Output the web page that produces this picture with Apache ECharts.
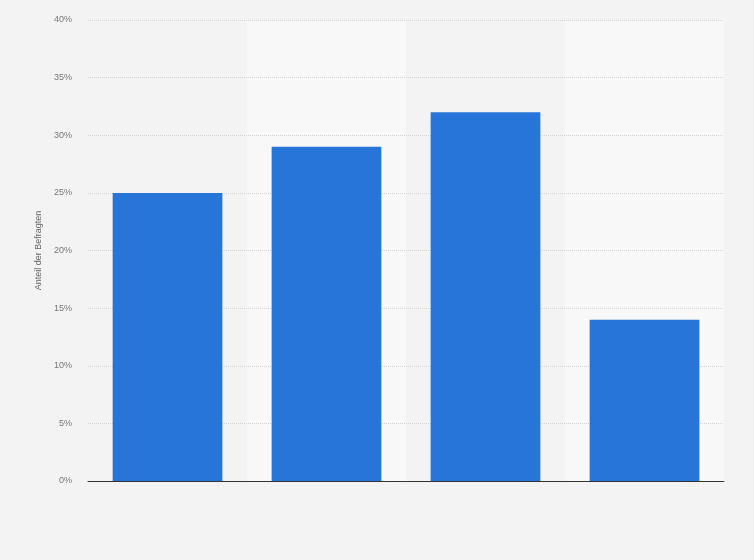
<!DOCTYPE html>
<html>
<head>
<meta charset="utf-8">
<script src="https://cdn.jsdelivr.net/npm/echarts@6/dist/echarts.min.js"></script>
<style>
html,body{margin:0;padding:0;background:#f3f3f3;}
#c{width:754px;height:560px;}
</style>
</head>
<body>
<div id="c"></div>
<script>
var categories = ['A', 'B', 'C', 'D'];
var values = [25, 29, 32, 14];
var yTicks = [0, 5, 10, 15, 20, 25, 30, 35, 40];

var chart = echarts.init(document.getElementById('c'));
chart.setOption({
  backgroundColor: '#f3f3f3',
  animation: false,
  grid: {left: 88, right: 30, top: 20, bottom: 79},
  xAxis: {
    type: 'category',
    z: 0,
    data: categories,
    axisLine: {show: true, lineStyle: {color: '#333', width: 1}},
    axisTick: {show: false},
    axisLabel: {show: false},
    splitArea: {show: true, areaStyle: {color: ['rgba(0,0,0,0)', '#f8f8f8']}}
  },
  yAxis: {
    type: 'value',
    z: 1,
    min: yTicks[0],
    max: yTicks[yTicks.length - 1],
    interval: 5,
    name: 'Anteil der Befragten',
    nameLocation: 'middle',
    nameGap: 44,
    nameTextStyle: {color: '#666', fontSize: 9, fontFamily: 'Liberation Sans'},
    axisLine: {show: false},
    axisTick: {show: false},
    axisLabel: {formatter: '{value}%', color: '#777', fontSize: 9, fontFamily: 'Liberation Sans', margin: 16},
    splitLine: {showMinLine: false, lineStyle: {color: '#d4d4d4', type: [1, 1], width: 1}}
  },
  series: [{
    type: 'bar',
    z: 2,
    data: values,
    barCategoryGap: '31%',
    itemStyle: {color: '#2775d9'}
  }]
});
</script>
</body>
</html>
